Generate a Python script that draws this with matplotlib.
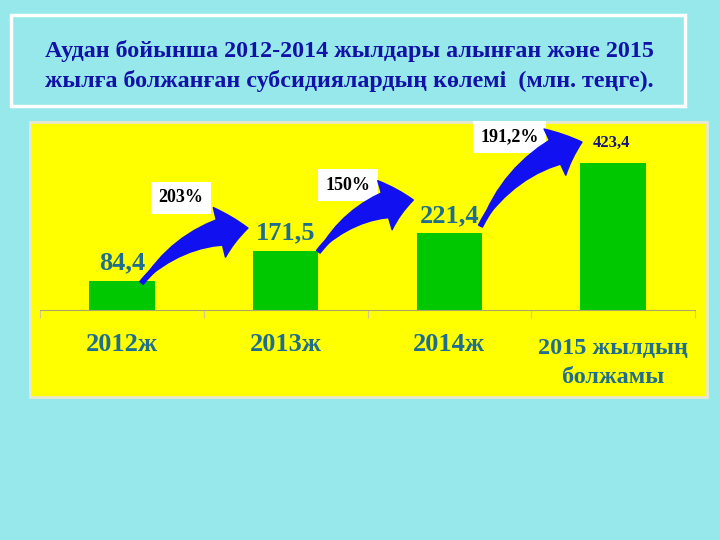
import matplotlib.pyplot as plt
from matplotlib.patches import Rectangle, FancyArrowPatch

# data
categories = ["2012ж", "2013ж", "2014ж", "2015 жылдың\nболжамы"]
values = [84.4, 171.5, 221.4, 423.4]
value_labels = ["84,4", "171,5", "221,4", "423,4"]
growth_labels = ["203%", "150%", "191,2%"]

title = ("Аудан бойынша 2012-2014 жылдары алынған және 2015\n"
         "жылға болжанған субсидиялардың көлемі  (млн. теңге).")

W, H = 720, 540
fig = plt.figure(figsize=(7.2, 5.4), dpi=100, facecolor="#96E8EA")

def fx(px):
    return px / W

def fy(py):
    return 1 - py / H

serif = ["Liberation Serif", "DejaVu Serif"]

# title box
fig.patches.append(Rectangle((fx(11), fy(106)), fx(674), 91 / H, transform=fig.transFigure,
                             facecolor="none", edgecolor="white", lw=2.5, zorder=-2))
fig.text(fx(45), fy(66), title, ha="left", va="center", fontsize=17.3, fontweight="bold",
         family=serif, color="#1212A8", linespacing=1.5)

# yellow panel
fig.patches.append(Rectangle((fx(30), fy(397)), fx(677), 275 / H, transform=fig.transFigure,
                             facecolor="#FFFF00", edgecolor="#E8E8D0", lw=2, zorder=-2))

# axes: baseline at y=310 px, x from 40 to 695 px
ax = fig.add_axes([fx(40), fy(310), fx(655), 170 / H])
ax.set_zorder(2)
ax.set_facecolor("none")
x = list(range(len(values)))
ax.bar(x, values, width=0.4, color="#00C800", zorder=2)
ax.set_xlim(-0.5, 3.5)
ax.set_ylim(0, 490)
for s in ["top", "left", "right"]:
    ax.spines[s].set_visible(False)
ax.spines["bottom"].set_color("#B0A860")
ax.set_yticks([])
ax.set_xticks([-0.5, 0.5, 1.5, 2.5, 3.5])
ax.set_xticklabels([])
ax.tick_params(axis="x", length=6, color="#D0C890")

for i, c in enumerate(categories):
    two = "\n" in c
    ax.text(i, -153 if two else -100, c, ha="center", va="center",
            fontsize=17.5 if two else 19, fontweight="bold", family=serif,
            color="#1F6E90", linespacing=1.55, clip_on=False)

for i, (v, lab) in enumerate(zip(values, value_labels)):
    if i == 3:
        ax.text(i - 0.01, v + 58, lab, ha="center", va="center", fontsize=12,
                fontweight="bold", family=serif, color="#14147A", clip_on=False, zorder=6)
    else:
        ax.text(i, v + 51, lab, ha="center", va="center", fontsize=19,
                fontweight="bold", family=serif, color="#1F6E90", clip_on=False, zorder=6)

# growth arrows and boxes
tails = [(0.12, 78), (1.20, 168), (2.19, 242)]
heads = [(0.77, 236), (1.78, 317), (2.81, 484)]
boxes = [(0.36, 323), (1.38, 360), (2.37, 499)]
rad = 0.22
for (t, h, b, g) in zip(tails, heads, boxes, growth_labels):
    # head plus thin shaft
    ax.add_patch(FancyArrowPatch(t, h, connectionstyle=f"arc3,rad=-{rad}",
                                 arrowstyle="simple,head_width=2.3,head_length=1.3,tail_width=0.2",
                                 mutation_scale=16, color="#1010F0", zorder=5, clip_on=False,
                                 shrinkA=0, shrinkB=0))
    # tapered body, wide near the head, pointed at the tail
    ax.add_patch(FancyArrowPatch(h, t, connectionstyle=f"arc3,rad={rad}",
                                 arrowstyle="wedge,tail_width=1.3,shrink_factor=0.5",
                                 mutation_scale=16, color="#1010F0", zorder=5, clip_on=False,
                                 shrinkA=14, shrinkB=0))
    ax.text(b[0], b[1], g, ha="center", va="center", fontsize=13, fontweight="bold",
            family=serif, color="black", zorder=4, clip_on=False,
            bbox=dict(facecolor="white", edgecolor="none", boxstyle="square,pad=0.4"))

plt.savefig("out.png", dpi=100, facecolor=fig.get_facecolor())
